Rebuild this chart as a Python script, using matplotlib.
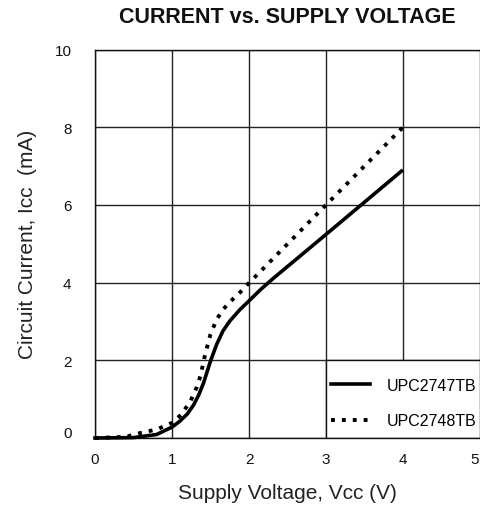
import matplotlib
matplotlib.use("Agg")
import matplotlib.pyplot as plt
from matplotlib.patches import Rectangle
import matplotlib.transforms as mtransforms

plt.rcParams['font.family'] = ['Liberation Sans', 'DejaVu Sans']

# Data
v_2747 = [0, 0.5, 0.8, 1.0, 1.1, 1.2, 1.28, 1.35, 1.41, 1.5, 1.58, 1.66, 1.75, 1.88, 2.0, 2.15, 2.31, 3.0, 3.98]
i_2747 = [0, 0.01, 0.09, 0.28, 0.43, 0.62, 0.85, 1.12, 1.42, 1.98, 2.41, 2.75, 3.01, 3.3, 3.53, 3.82, 4.1, 5.24, 6.87]

v_2748 = [0, 0.4, 0.59, 0.8, 1.0, 1.12, 1.24, 1.32, 1.37, 1.43, 1.5, 1.58, 1.66, 1.75, 1.87, 1.97, 2.08, 3.0, 4.0]
i_2748 = [0, 0.03, 0.13, 0.22, 0.39, 0.6, 0.95, 1.3, 1.6, 2.15, 2.67, 3.05, 3.3, 3.5, 3.72, 3.93, 4.15, 6.0, 8.0]

labels = ["UPC2747TB", "UPC2748TB"]
x_ticks = [0, 1, 2, 3, 4, 5]
y_ticks = [0, 2, 4, 6, 8, 10]

fig = plt.figure(figsize=(4.8, 5.1), dpi=100)
W, H = 480, 510
ax = fig.add_axes([95 / W, 1 - 439 / H, 385 / W, (439 - 50.5) / H])

ax.set_xlim(0, 5)
ax.set_ylim(0, 10)
ax.set_xticks(x_ticks)
ax.set_yticks(y_ticks)
ax.grid(True, color='#222222', linewidth=1.0)
ax.set_axisbelow(True)
ax.tick_params(length=0, labelsize=11, colors='#111111')
ax.tick_params(axis='x', pad=10)
ax.tick_params(axis='y', pad=17)
for s in ['left', 'top', 'bottom']:
    ax.spines[s].set_color('#111111')
    ax.spines[s].set_linewidth(1.0)
ax.spines['right'].set_visible(False)

# raise the "0" y tick label slightly as in the reference
lab0 = ax.get_yticklabels()[0]
lab0.set_transform(lab0.get_transform() + mtransforms.ScaledTranslation(0, 6 / 100, fig.dpi_scale_trans))
# keep the last x tick label inside the figure
lab5 = ax.get_xticklabels()[-1]
lab5.set_transform(lab5.get_transform() + mtransforms.ScaledTranslation(-5 / 100, 0, fig.dpi_scale_trans))

# legend background box (covers x 3..5, y 0..2 cell area)
ax.add_patch(Rectangle((x_ticks[3], y_ticks[0]), x_ticks[5] - x_ticks[3], y_ticks[1] - y_ticks[0],
                       facecolor='white', edgecolor='#111111', linewidth=1.0, zorder=1.5))

ax.plot(v_2747, i_2747, color='black', linewidth=2.6, solid_joinstyle='round',
        clip_on=False, zorder=3, label=labels[0])
ax.plot(v_2748, i_2748, color='black', linewidth=2.8, linestyle=(0, (1, 1.8)),
        clip_on=False, zorder=3, label=labels[1])

leg = ax.legend(loc='center', bbox_to_anchor=(0.801, 0.09), frameon=False,
                fontsize=11.5, borderpad=0, borderaxespad=0, handlelength=2.5,
                handletextpad=1.0, labelspacing=1.3)
leg.set_zorder(4)

ax.set_title("CURRENT vs. SUPPLY VOLTAGE", fontsize=15.5, fontweight='bold', pad=20, color='#111111')
ax.set_xlabel("Supply Voltage, V\u1d04\u1d04 (V)", fontsize=15, color='#222222')
ax.set_ylabel("Circuit Current, I\u1d04\u1d04  (mA)", fontsize=15, color='#222222')
ax.xaxis.set_label_coords(0.5, -0.115)
ax.yaxis.set_label_coords(-0.15, 0.5)

fig.savefig("out.png", dpi=100)
